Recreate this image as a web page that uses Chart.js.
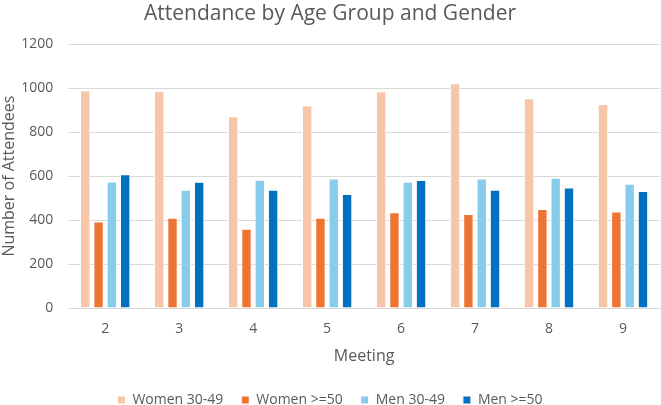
<!DOCTYPE html>
<html lang="en">
<head>
    <meta charset="UTF-8">
    <title>Attendance by Age Group and Gender</title>
    <style>
        html, body {
            margin: 0;
            padding: 0;
            background: #ffffff;
        }
        .chart-box {
            width: 661px;
            height: 405px;
        }
    </style>
</head>
<body>
    <div class="chart-box">
        <canvas id="attChart" width="661" height="405"></canvas>
    </div>
    <script src="https://cdn.jsdelivr.net/npm/chart.js"></script>
    <script>
        // meetings along the x axis
        const meetings = ['2', '3', '4', '5', '6', '7', '8', '9'];

        // attendees per group
        const women3049 = [990, 987, 872, 922, 986, 1022, 954, 928];
        const women50 = [393, 410, 360, 410, 436, 428, 450, 439];
        const men3049 = [576, 538, 583, 589, 574, 589, 592, 565];
        const men50 = [608, 574, 538, 519, 582, 538, 548, 532];

        const seriesNames = ['Women 30-49', 'Women >=50', 'Men 30-49', 'Men >=50'];
        const seriesColors = ['#F7C6A9', '#ED7433', '#87CDEB', '#0070C0'];

        const grey = '#595959';
        const fontFam = "'Open Sans', 'Liberation Sans', sans-serif";

        const allSeries = [women3049, women50, men3049, men50];

        const ctx = document.getElementById('attChart').getContext('2d');
        const attChart = new Chart(ctx, {
            type: 'bar',
            data: {
                labels: meetings,
                datasets: allSeries.map(function(vals, i) {
                    return {
                        label: seriesNames[i],
                        data: vals,
                        backgroundColor: seriesColors[i],
                        borderColor: '#ffffff',
                        borderWidth: 1,
                        categoryPercentage: 0.72,
                        barPercentage: 0.78
                    };
                })
            },
            options: {
                responsive: false,
                animation: false,
                layout: {
                    // legend sits lower than chart.js would put it
                    padding: { left: 0, right: 1, top: 0, bottom: -12 }
                },
                plugins: {
                    title: {
                        display: true,
                        text: 'Attendance by Age Group and Gender',
                        color: grey,
                        font: { family: fontFam, size: 21, weight: 'normal' },
                        padding: { top: 1, bottom: 18 }
                    },
                    legend: {
                        position: 'bottom',
                        labels: {
                            color: grey,
                            boxWidth: 8,
                            boxHeight: 8,
                            padding: 18,
                            font: { family: fontFam, size: 14 }
                        }
                    },
                    tooltip: { enabled: false }
                },
                scales: {
                    x: {
                        grid: { display: false },
                        border: { color: '#D9D9D9' },
                        ticks: {
                            color: grey,
                            font: { family: fontFam, size: 14 },
                            padding: 5
                        },
                        title: {
                            display: true,
                            text: 'Meeting',
                            color: grey,
                            font: { family: fontFam, size: 16 },
                            padding: { top: 4, bottom: 9 }
                        }
                    },
                    y: {
                        min: 0,
                        max: 1200,
                        ticks: {
                            stepSize: 200,
                            color: grey,
                            font: { family: fontFam, size: 14 },
                            padding: 0,
                            callback: function(v) { return String(v); }
                        },
                        grid: {
                            color: '#D9D9D9',
                            drawTicks: true,
                            tickLength: 15,
                            tickColor: 'rgba(0,0,0,0)'
                        },
                        border: { display: false },
                        title: {
                            display: true,
                            text: 'Number of Attendees',
                            color: grey,
                            font: { family: fontFam, size: 16 },
                            padding: { top: 0, bottom: 2 }
                        }
                    }
                }
            }
        });
    </script>
</body>
</html>
